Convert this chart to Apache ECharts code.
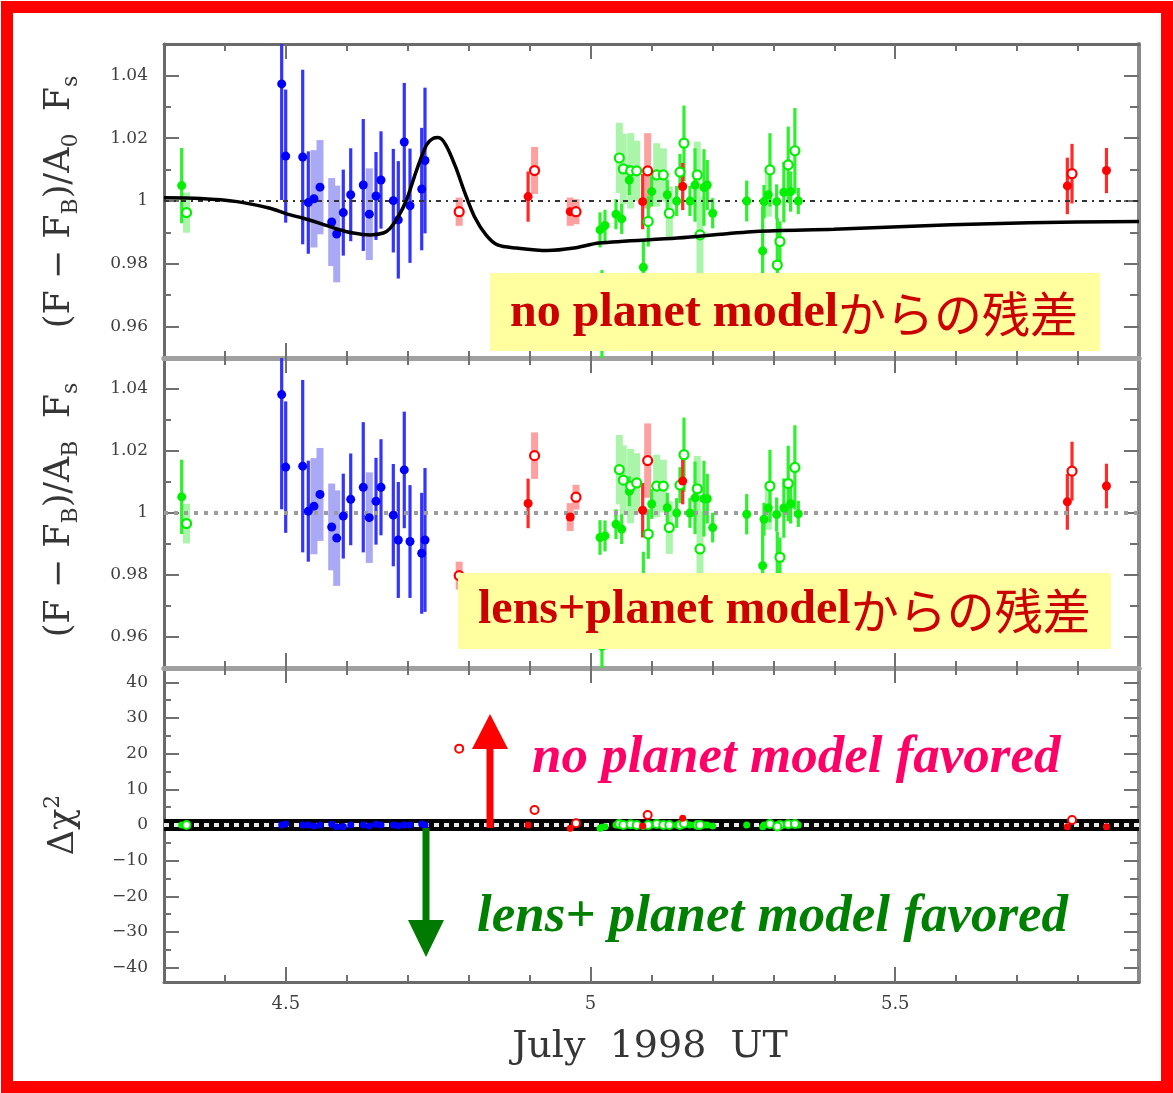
<!DOCTYPE html>
<html><head><meta charset="utf-8">
<script src="https://cdn.jsdelivr.net/npm/echarts@6/dist/echarts.min.js"></script>
<style>html,body{margin:0;padding:0;background:#fff}#c{width:1173px;height:1093px}</style>
</head><body><div id="c"></div>
<script>
// ---------------- data ----------------
const xTickMajor = [4.5, 5, 5.5];
const xTickMinor = [4.4, 4.6, 4.7, 4.8, 4.9, 5.1, 5.2, 5.3, 5.4, 5.6, 5.7, 5.8];
const fluxTickMajor = [0.96, 0.98, 1, 1.02, 1.04];
const fluxTickMinor = [0.97, 0.99, 1.01, 1.03];
const chiTickMajor = [-40, -30, -20, -10, 0, 10, 20, 30, 40];
const chiTickMinor = [-35, -25, -15, -5, 5, 15, 25, 35];

// blue site
const blueX   = [4.4931,4.4997,4.5276,4.5368,4.5461,4.5560,4.5752,4.5834,4.5942,4.6064,4.6270,4.6369,4.6479,4.6561,4.6763,4.6845,4.6943,4.7037,4.7229,4.7283];
const blueTop = [1.0373,1.0143,1.0140,0.9995,1.0007,1.0044,0.9933,0.9895,0.9963,1.0020,1.0051,0.9958,1.0016,1.0067,1.0001,0.9940,1.0188,0.9985,1.0038,1.0129];
const blueMid = [1.0382,1.0148,1.0151,1.0006,1.0022,1.0060,0.9955,0.9919,0.9990,1.0044,1.0083,0.9985,1.0038,1.0083,0.9993,0.9913,1.0139,0.9908,0.9870,0.9913];
const blueErr = [0.0370,0.0212,0.0278,0.0163,0.0155,0.0150,0.0140,0.0154,0.0137,0.0148,0.0210,0.0146,0.0140,0.0155,0.0165,0.0187,0.0188,0.0182,0.0195,0.0232];
const blueOpen  = [0,0,0,0,0,0,0,0,0,0,0,0,0,0,0,0,0,0,0,0];
const blueLight = [0,0,0,0,1,1,1,1,0,0,0,1,0,0,0,0,0,0,0,0];
const blueDchi  = [0,0.3,0,0,-0.3,0,0.2,-0.5,-0.4,0,0,-0.3,0.2,0,0,-0.2,0,0,0.3,0];

// green site
const greenX = [4.329,4.337,
  5.0155,5.0237,5.0417,5.0511,5.0472,5.0537,5.0636,5.0658,5.0757,5.0947,
  5.0866,5.1003,5.1085,5.1194,5.1259,5.1292,5.1413,5.1467,5.1533,5.1631,
  5.1714,5.1751,5.1796,5.1861,5.1915,5.2004,5.2562,5.2824,5.2846,5.2944,
  5.2917,5.3054,5.3108,5.3064,5.3172,5.3243,5.3283,5.3353,5.3409,5.0187];
const greenTop = [1.0049,0.9963,
  0.9908,0.9922,0.9958,0.9943,1.0137,1.0102,1.0067,1.0096,1.0096,0.9935,
  0.9789,1.0030,1.0083,1.0083,1.0020,0.9961,1.0000,1.0092,1.0184,1.0000,
  1.0051,1.0083,0.9892,1.0043,1.0051,0.9961,1.0000,0.9841,0.9998,1.0099,
  1.0020,0.9998,0.9871,0.9796,1.0028,1.0115,1.0030,1.0160,1.0000,0.9580];
const greenMid = [1.0052,0.9966,
  0.9921,0.9926,0.9964,0.9948,1.0140,1.0106,1.0070,1.0087,1.0097,0.9932,
  0.9785,1.0029,1.0087,1.0087,1.0017,0.9953,1.0000,1.0090,1.0188,1.0000,
  1.0049,1.0078,0.9884,1.0046,1.0046,0.9953,0.9996,0.9830,0.9980,1.0087,
  1.0016,0.9995,0.9857,0.9790,1.0016,1.0095,1.0030,1.0147,0.9997,0.9570];
const greenErr = [0.0120,0.0064,
  0.0056,0.0050,0.0048,0.0048,0.0112,0.0112,0.0048,0.0120,0.0096,0.0080,
  0.0090,0.0048,0.0101,0.0085,0.0048,0.0085,0.0048,0.0058,0.0120,0.0048,
  0.0117,0.0106,0.0122,0.0122,0.0080,0.0048,0.0065,0.0143,0.0053,0.0117,
  0.0070,0.0055,0.0064,0.0150,0.0096,0.0122,0.0064,0.0136,0.0042,0.0200];
const greenOpen = [0,1,
  0,0,0,0,1,1,0,1,1,1,
  0,0,1,1,0,1,0,1,1,0,
  0,1,1,0,0,0,0,0,0,1,
  0,0,1,1,0,1,0,1,0,0];
const greenLight = [0,1,
  0,0,0,0,1,1,0,1,1,0,
  0,0,1,1,0,1,0,0,0,0,
  0,1,1,0,0,0,0,0,0,0,
  1,0,0,0,0,0,0,0,0,0];
const greenDchi = [0,0,
  -0.9,-0.5,0,0,0.3,0,0,0.2,0,0,
  -0.4,0,0.3,0,0,0,0,0,0.4,0,
  0,0,0,0,0,-0.3,0,-0.5,0,0.3,
  0,0,0,-0.4,0,0.2,0,0.3,0,-0.6];

// red site
const redX   = [4.7844,4.8975,4.9081,4.9666,4.9761,5.0855,5.0937,5.1512,5.7824,5.7901,5.8466];
const redTop = [0.9966,1.0014,1.0097,0.9966,0.9966,0.9998,1.0096,1.0046,1.0048,1.0087,1.0097];
const redMid = [0.9798,1.0031,1.0185,0.9987,1.0051,1.0009,1.0169,1.0103,1.0036,1.0135,1.0087];
const redErr = [0.0045,0.0080,0.0075,0.0045,0.0040,0.0088,0.0120,0.0075,0.0090,0.0095,0.0072];
const redOpen  = [1,0,1,0,1,0,1,0,0,1,0];
const redLight = [1,0,1,1,1,0,1,0,0,0,0];
const redDchi  = [21.4,0,4.2,-0.9,0.5,-0.3,2.8,1.9,-0.5,1.4,-0.5];

// no-planet model curve (top panel)
const modelX = [4.30,4.36,4.42,4.474,4.5013,4.5286,4.556,4.5834,4.6106,4.638,4.660,4.671,4.6845,4.698,4.7147,4.731,4.742,4.750,4.7624,4.7782,4.7939,4.8095,4.8284,4.8473,4.8786,4.929,4.9728,5.0138,5.1423,5.2706,5.399,5.5914,5.7194,5.90];
const modelY = [1.0010,1.0008,0.9998,0.9977,0.9959,0.9945,0.9929,0.9911,0.9898,0.9892,0.9898,0.9913,0.9950,1.0004,1.0099,1.0179,1.0200,1.0202,1.0179,1.0110,1.0025,0.9950,0.9892,0.9860,0.9850,0.9842,0.9850,0.9866,0.9882,0.9903,0.9910,0.9924,0.9931,0.9935];

// ---------------- chart ----------------
const SERIF = "'DejaVu Serif', serif";
const X_MIN = 4.3, X_MAX = 5.9;

const sets = [
  {x: blueX, y: [blueTop, blueMid, blueDchi], err: blueErr, open: blueOpen, light: blueLight,
   color: '#0000ff', bar: '#3434ff', lightBar: '#a9a9f6'},
  {x: greenX, y: [greenTop, greenMid, greenDchi], err: greenErr, open: greenOpen, light: greenLight,
   color: '#00f000', bar: '#2ef02e', lightBar: '#aaf5aa'},
  {x: redX, y: [redTop, redMid, redDchi], err: redErr, open: redOpen, light: redLight,
   color: '#ff0000', bar: '#ff2a2a', lightBar: '#ffa0a0'}
];

const grids = [
  {left: 164, top: 44, width: 975, height: 314, outerBoundsMode: 'none'},
  {left: 164, top: 358, width: 975, height: 310, outerBoundsMode: 'none'},
  {left: 164, top: 668, width: 975, height: 314, outerBoundsMode: 'none'}
];

const OUTER = {color: '#6a6a6a', width: 3};
const INNER = {color: '#a0a0a0', width: 5};
const TICK = {color: '#707070', width: 2};
const LABEL = {color: '#3f3f3f', fontFamily: SERIF, fontSize: 17};

const xAxes = [], yAxes = [];
for (let g = 0; g < 3; g++) {
  const botLine = g === 2 ? OUTER : INNER;
  const topLine = g === 0 ? OUTER : INNER;
  const base = {gridIndex: g, type: 'value', min: X_MIN, max: X_MAX, splitLine: {show: false}};
  xAxes.push(Object.assign({}, base, {position: 'bottom',
    axisLine: {show: true, onZero: false, lineStyle: botLine},
    axisTick: {show: true, inside: true, length: 7, customValues: xTickMinor, lineStyle: TICK},
    axisLabel: {show: false}}));
  xAxes.push(Object.assign({}, base, {position: 'bottom',
    axisLine: {show: false, onZero: false},
    axisTick: {show: true, inside: true, length: 15, customValues: xTickMajor, lineStyle: TICK},
    axisLabel: Object.assign({show: g === 2, customValues: xTickMajor, margin: 13,
      formatter: v => String(v)}, LABEL, {fontSize: 18})}));
  xAxes.push(Object.assign({}, base, {position: 'top',
    axisLine: {show: true, onZero: false, lineStyle: topLine},
    axisTick: {show: true, inside: true, length: 7, customValues: xTickMinor, lineStyle: TICK},
    axisLabel: {show: false}}));
  xAxes.push(Object.assign({}, base, {position: 'top',
    axisLine: {show: false, onZero: false},
    axisTick: {show: true, inside: true, length: 15, customValues: xTickMajor, lineStyle: TICK},
    axisLabel: {show: false}}));

  const isChi = g === 2;
  const ybase = {gridIndex: g, type: 'value', min: isChi ? -44 : 0.95, max: isChi ? 44 : 1.05, splitLine: {show: false}};
  const major = isChi ? chiTickMajor : fluxTickMajor;
  const minor = isChi ? chiTickMinor : fluxTickMinor;
  const fmt = isChi ? (v => v < 0 ? '\u2212' + (-v) : String(v))
                    : (v => Math.abs(v - 1) < 1e-6 ? '1' : v.toFixed(2));
  yAxes.push(Object.assign({}, ybase, {position: 'left',
    axisLine: {show: true, onZero: false, lineStyle: OUTER},
    axisTick: {show: true, inside: true, length: 7, customValues: minor, lineStyle: TICK},
    axisLabel: {show: false}}));
  yAxes.push(Object.assign({}, ybase, {position: 'left',
    axisLine: {show: false, onZero: false},
    axisTick: {show: true, inside: true, length: 15, customValues: major, lineStyle: TICK},
    axisLabel: Object.assign({show: true, customValues: major, margin: 16, formatter: fmt}, LABEL)}));
  yAxes.push(Object.assign({}, ybase, {position: 'right',
    axisLine: {show: true, onZero: false, lineStyle: {color: '#8a8a8a', width: 4}},
    axisTick: {show: true, inside: true, length: 9, customValues: minor, lineStyle: TICK},
    axisLabel: {show: false}}));
  yAxes.push(Object.assign({}, ybase, {position: 'right',
    axisLine: {show: false, onZero: false},
    axisTick: {show: true, inside: true, length: 15, customValues: major, lineStyle: TICK},
    axisLabel: {show: false}}));
}

function pick(set, yArr, cond) {
  const out = [];
  for (let i = 0; i < set.x.length; i++) if (cond(i)) out.push([set.x[i], yArr[i], set.err[i]]);
  return out;
}
function errBar(color, w) {
  return function (params, api) {
    const x = api.value(0), y = api.value(1), e = api.value(2);
    const p1 = api.coord([x, y + e]), p2 = api.coord([x, y - e]);
    const cs = params.coordSys;
    const r = echarts.graphic.clipRectByRect(
      {x: p1[0] - w / 2, y: p1[1], width: w, height: p2[1] - p1[1]},
      {x: cs.x, y: cs.y, width: cs.width, height: cs.height});
    return r ? {type: 'rect', shape: r, style: {fill: color}} : null;
  };
}
function refLine(value, styles) {
  return function (params, api) {
    const cs = params.coordSys;
    const y = api.coord([X_MIN, value])[1];
    return {type: 'group', children: styles.map(s => ({type: 'line',
      shape: {x1: cs.x, y1: y, x2: cs.x + cs.width, y2: y}, style: s}))};
  };
}

const series = [];
for (let p = 0; p < 3; p++) {
  const ax = {xAxisIndex: 4 * p, yAxisIndex: 4 * p};
  if (p < 2) {
    series.push(Object.assign({type: 'custom', silent: true, z: 3, data: [[X_MIN, 1]],
      renderItem: refLine(1, p === 0
        ? [{stroke: '#333333', lineWidth: 2, lineDash: [5, 5, 2, 5]}]
        : [{stroke: '#9c9c9c', lineWidth: 4, lineDash: [4, 6]}])}, ax));
    sets.forEach(s => {
      series.push(Object.assign({type: 'custom', silent: true, z: 1,
        data: pick(s, s.y[p], i => s.light[i]), renderItem: errBar(s.lightBar, 7)}, ax));
      series.push(Object.assign({type: 'custom', silent: true, z: 2,
        data: pick(s, s.y[p], i => !s.light[i]), renderItem: errBar(s.bar, 3.2)}, ax));
      series.push(Object.assign({type: 'scatter', silent: true, z: 4, symbol: 'circle', symbolSize: 9,
        itemStyle: {color: s.color, opacity: 1},
        data: pick(s, s.y[p], i => !s.open[i]).map(d => [d[0], d[1]])}, ax));
      series.push(Object.assign({type: 'scatter', silent: true, z: 4, symbol: 'circle', symbolSize: 9,
        itemStyle: {color: '#ffffff', borderColor: s.color, borderWidth: 2.2, opacity: 1},
        data: pick(s, s.y[p], i => s.open[i]).map(d => [d[0], d[1]])}, ax));
    });
    if (p === 0) {
      series.push(Object.assign({type: 'line', silent: true, z: 5, smooth: 0.3, showSymbol: false,
        lineStyle: {color: '#000', width: 3.5}, data: modelX.map((x, i) => [x, modelY[i]])}, ax));
    }
  } else {
    series.push(Object.assign({type: 'custom', silent: true, z: 1, data: [[X_MIN, 0]],
      renderItem: refLine(0, [{stroke: '#000', lineWidth: 12},
                              {stroke: '#e8e8e8', lineWidth: 4, lineDash: [5, 5]}])}, ax));
    sets.forEach(s => {
      series.push(Object.assign({type: 'scatter', silent: true, z: 4, symbol: 'circle', symbolSize: 7,
        itemStyle: {color: s.color, opacity: 1},
        data: s.x.map((x, i) => [x, s.y[2][i]]).filter((d, i) => !s.open[i])}, ax));
      series.push(Object.assign({type: 'scatter', silent: true, z: 4, symbol: 'circle', symbolSize: 8,
        itemStyle: {color: '#ffffff', borderColor: s.color, borderWidth: 2, opacity: 1},
        data: s.x.map((x, i) => [x, s.y[2][i]]).filter((d, i) => s.open[i])}, ax));
    });
  }
}

const TITLE_COLOR = '#363636';
const titleRich = {
  m: {fontFamily: SERIF, fontSize: 35, fill: TITLE_COLOR, lineHeight: 44, verticalAlign: 'middle'},
  s: {fontFamily: SERIF, fontSize: 22, fill: TITLE_COLOR, lineHeight: 14, verticalAlign: 'bottom'},
  u: {fontFamily: SERIF, fontSize: 22, fill: TITLE_COLOR, lineHeight: 14, verticalAlign: 'top'}
};

const graphic = [
  // y-axis titles
  {type: 'text', x: 60, y: 202, rotation: Math.PI / 2, z: 50,
   style: {text: '{m|(F \u2212 F}{s|B}{m|)/A}{s|0}{m|  F}{s|s}', rich: titleRich, align: 'center', verticalAlign: 'middle'}},
  {type: 'text', x: 60, y: 510, rotation: Math.PI / 2, z: 50,
   style: {text: '{m|(F \u2212 F}{s|B}{m|)/A}{s|B}{m|  F}{s|s}', rich: titleRich, align: 'center', verticalAlign: 'middle'}},
  {type: 'text', x: 64, y: 825, rotation: Math.PI / 2, z: 50,
   style: {text: '{m|\u0394\u03c7}{u|2}', rich: titleRich, align: 'center', verticalAlign: 'middle'}},
  // x-axis title
  {type: 'text', x: 650, y: 1047, z: 50,
   style: {text: 'July  1998  UT', font: "38px 'DejaVu Serif', serif", fill: TITLE_COLOR, align: 'center', verticalAlign: 'middle'}},
  // yellow boxes
  {type: 'rect', z: 50, shape: {x: 490, y: 273, width: 610, height: 78}, style: {fill: '#ffffa0'}},
  {type: 'rect', z: 50, shape: {x: 458, y: 573, width: 653, height: 76}, style: {fill: '#ffffa0'}},
  {type: 'text', x: 510, y: 314, z: 51,
   style: {text: '{a|no planet model}{b|からの残差}', align: 'left', verticalAlign: 'middle',
     rich: {a: {font: "bold 48px 'Liberation Serif', serif", fill: '#cc0000'},
            b: {font: "48px 'Noto Sans CJK JP', sans-serif", fill: '#cc0000'}}}},
  {type: 'text', x: 478, y: 611, z: 51,
   style: {text: '{a|lens+planet model}{b|からの残差}', align: 'left', verticalAlign: 'middle',
     rich: {a: {font: "bold 48px 'Liberation Serif', serif", fill: '#cc0000'},
            b: {font: "48px 'Noto Sans CJK JP', sans-serif", fill: '#cc0000'}}}},
  // bottom annotations
  {type: 'text', x: 532, y: 758, z: 51,
   style: {text: 'no planet model favored', font: "italic bold 53px 'Liberation Serif', serif", fill: '#ff0066', align: 'left', verticalAlign: 'middle'}},
  {type: 'text', x: 477, y: 917, z: 51,
   style: {text: 'lens+ planet model favored', font: "italic bold 53px 'Liberation Serif', serif", fill: '#008000', align: 'left', verticalAlign: 'middle'}},
  // arrows
  {type: 'rect', z: 52, shape: {x: 486.5, y: 747, width: 7, height: 81}, style: {fill: '#ff0000'}},
  {type: 'polygon', z: 52, shape: {points: [[490, 714], [472, 749], [508, 749]]}, style: {fill: '#ff0000'}},
  {type: 'rect', z: 52, shape: {x: 422.5, y: 828, width: 7, height: 94}, style: {fill: '#007a00'}},
  {type: 'polygon', z: 52, shape: {points: [[426, 957], [408, 920], [444, 920]]}, style: {fill: '#007a00'}},
  // red frame
  {type: 'rect', z: 60, shape: {x: 7, y: 7, width: 1160, height: 1080}, style: {fill: 'none', stroke: '#ff0000', lineWidth: 12}}
];

const chart = echarts.init(document.getElementById('c'), null, {renderer: 'canvas'});
chart.setOption({
  backgroundColor: '#ffffff',
  animation: false,
  grid: grids,
  xAxis: xAxes,
  yAxis: yAxes,
  series: series,
  graphic: graphic
});
</script>
</body></html>
